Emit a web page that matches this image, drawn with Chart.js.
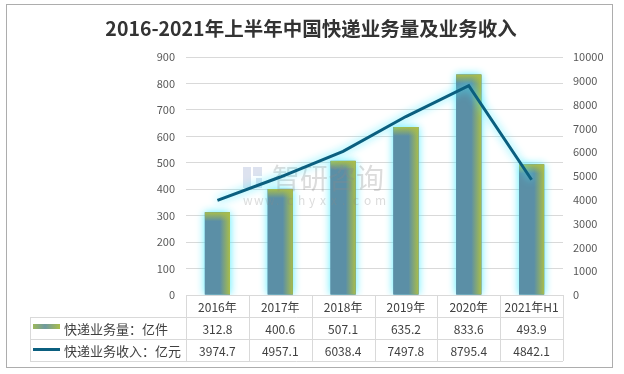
<!DOCTYPE html>
<html>
<head>
<meta charset="utf-8">
<script src="https://cdn.jsdelivr.net/npm/chart.js@4.4.1/dist/chart.umd.min.js"></script>
<style>
  html, body { margin: 0; padding: 0; background: #fff; }
  #wrap { width: 624px; height: 374px; }
</style>
</head>
<body>
<div id="wrap"><canvas id="expressChart" width="624" height="374"></canvas></div>
<script>
// data chart
const judul = '2016-2021年上半年中国快递业务量及业务收入';
const categories = ['2016年', '2017年', '2018年', '2019年', '2020年', '2021年H1'];
const volume = [312.8, 400.6, 507.1, 635.2, 833.6, 493.9];        // 亿件
const revenue = [3974.7, 4957.1, 6038.4, 7497.8, 8795.4, 4842.1]; // 亿元
const seriesNames = ['快递业务量：亿件', '快递业务收入：亿元'];
const leftMax = 900, leftStep = 100;
const rightMax = 10000, rightStep = 1000;

const FONT = '"Noto Sans CJK SC", "Noto Sans", sans-serif';
const BLUE = '#5B8FA6';
const OLIVE = '#A9BD4A';
const LINE = '#0B5F7F';

// plugin: background, border, title, bars with glow, watermark, data table
const decorPlugin = {
    id: 'decor',
    beforeDraw(chart) {
        const ctx = chart.ctx;
        ctx.save();
        ctx.fillStyle = '#fff';
        ctx.fillRect(0, 0, chart.width, chart.height);
        ctx.strokeStyle = '#ADADAD';
        ctx.lineWidth = 1;
        ctx.strokeRect(6.5, 4.5, 606, 363);
        ctx.fillStyle = '#333';
        ctx.font = 'bold 19.5px ' + FONT;
        ctx.textAlign = 'center';
        ctx.textBaseline = 'middle';
        ctx.fillText(judul, 311, 29);
        ctx.restore();
    },
    beforeDatasetsDraw(chart) {
        const ctx = chart.ctx;
        const area = chart.chartArea;
        const meta = chart.getDatasetMeta(1);
        ctx.save();
        ctx.beginPath();
        ctx.rect(0, 0, chart.width, area.bottom);
        ctx.clip();
        meta.data.forEach(function(el) {
            const p = el.getProps(['x', 'y', 'base', 'width'], true);
            const left = p.x - p.width / 2;
            const h = p.base - p.y;
            // glow
            ctx.save();
            ctx.shadowColor = 'rgba(70,235,255,0.95)';
            ctx.shadowBlur = 9;
            ctx.fillStyle = BLUE;
            ctx.fillRect(left, p.y, p.width, h);
            ctx.restore();
            ctx.fillStyle = BLUE;
            ctx.fillRect(left, p.y, p.width, h);
            // sisi kanan
            const gr = ctx.createLinearGradient(left + p.width * 0.6, 0, left + p.width, 0);
            gr.addColorStop(0, 'rgba(169,189,74,0)');
            gr.addColorStop(1, OLIVE);
            ctx.fillStyle = gr;
            ctx.fillRect(left, p.y, p.width, h);
            // sisi atas
            const gt = ctx.createLinearGradient(0, p.y, 0, p.y + 9);
            gt.addColorStop(0, OLIVE);
            gt.addColorStop(1, 'rgba(169,189,74,0)');
            ctx.fillStyle = gt;
            ctx.fillRect(left, p.y, p.width, Math.min(9, h));
        });
        ctx.restore();

        // watermark
        ctx.save();
        ctx.fillStyle = 'rgba(120,140,190,0.25)';
        ctx.fillRect(243, 167, 8, 21);
        ctx.fillRect(253, 167, 9, 9);
        ctx.fillRect(256, 178, 6, 10);
        ctx.fillStyle = 'rgba(140,140,140,0.3)';
        ctx.font = '28px ' + FONT;
        ctx.textBaseline = 'middle';
        ctx.textAlign = 'left';
        ctx.fillText('智研咨询', 272, 178);
        ctx.font = '12px ' + FONT;
        const wm = 'www.chyxx.com';
        for (let i = 0; i < wm.length; i++) {
            ctx.fillText(wm[i], 243 + i * 11, 200);
        }
        ctx.restore();
    },
    beforeDatasetDraw(chart, args) {
        if (args.index === 0) {
            chart.ctx.save();
            chart.ctx.shadowColor = 'rgba(70,235,255,0.95)';
            chart.ctx.shadowBlur = 8;
        }
    },
    afterDatasetDraw(chart, args) {
        if (args.index === 0) chart.ctx.restore();
    },
    afterDraw(chart) {
        const ctx = chart.ctx;
        const area = chart.chartArea;
        const xs = chart.scales.x;
        const colW = (area.right - area.left) / categories.length;
        const legendLeft = 30;
        const rows = [area.bottom, 317, 339, 361];
        ctx.save();
        ctx.strokeStyle = '#D9D9D9';
        ctx.lineWidth = 1;
        ctx.beginPath();
        // garis horizontal
        ctx.moveTo(area.left, Math.round(rows[0]) + 0.5);
        ctx.lineTo(area.right, Math.round(rows[0]) + 0.5);
        for (let r = 1; r < rows.length; r++) {
            ctx.moveTo(legendLeft, rows[r] + 0.5);
            ctx.lineTo(area.right, rows[r] + 0.5);
        }
        // garis vertikal
        for (let i = 0; i <= categories.length; i++) {
            const x = Math.round(area.left + i * colW) + 0.5;
            ctx.moveTo(x, area.bottom);
            ctx.lineTo(x, rows[3]);
        }
        ctx.moveTo(legendLeft + 0.5, rows[1]);
        ctx.lineTo(legendLeft + 0.5, rows[3]);
        ctx.stroke();

        ctx.fillStyle = '#404040';
        ctx.font = '12px ' + FONT;
        ctx.textAlign = 'center';
        ctx.textBaseline = 'middle';
        categories.forEach(function(c, i) {
            const x = xs.getPixelForTick(i);
            ctx.fillText(c, x, (rows[0] + rows[1]) / 2 + 1);
            ctx.fillText(volume[i].toFixed(1), x, (rows[1] + rows[2]) / 2 + 1);
            ctx.fillText(revenue[i].toFixed(1), x, (rows[2] + rows[3]) / 2 + 1);
        });

        // legend
        const g = ctx.createLinearGradient(33, 0, 60, 0);
        g.addColorStop(0, '#9DB85A');
        g.addColorStop(0.45, '#6F9AA0');
        g.addColorStop(1, OLIVE);
        ctx.fillStyle = g;
        ctx.fillRect(33, 324, 27, 5);
        ctx.fillStyle = LINE;
        ctx.fillRect(33, 348, 27, 3);
        ctx.fillStyle = '#404040';
        ctx.font = '13px ' + FONT;
        ctx.textAlign = 'left';
        ctx.fillText(seriesNames[0], 64, (rows[1] + rows[2]) / 2 + 1);
        ctx.fillText(seriesNames[1], 64, (rows[2] + rows[3]) / 2 + 1);
        ctx.restore();
    }
};

const ctx = document.getElementById('expressChart');
new Chart(ctx.getContext('2d'), {
    type: 'bar',
    data: {
        labels: categories,
        datasets: [{
            type: 'line',
            label: seriesNames[1],
            data: revenue,
            yAxisID: 'y1',
            borderColor: LINE,
            borderWidth: 3,
            pointRadius: 0,
            tension: 0,
            order: 1
        }, {
            type: 'bar',
            label: seriesNames[0],
            data: volume,
            yAxisID: 'y',
            backgroundColor: 'rgba(0,0,0,0)',
            borderWidth: 0,
            categoryPercentage: 0.5,
            barPercentage: 0.8,
            order: 2
        }]
    },
    options: {
        responsive: false,
        animation: false,
        layout: { padding: { top: 57, left: 0, right: 0, bottom: 79 } },
        plugins: {
            legend: { display: false },
            tooltip: { enabled: false }
        },
        scales: {
            x: { display: false, offset: true },
            y: {
                position: 'left',
                min: 0,
                max: leftMax,
                afterFit: function(s) { s.width = 186; },
                ticks: { stepSize: leftStep, color: '#595959', padding: 11, font: { size: 11, family: FONT },
                         callback: function(v) { return String(v); } },
                grid: { color: '#D9D9D9', drawTicks: false },
                border: { display: false }
            },
            y1: {
                position: 'right',
                min: 0,
                max: rightMax,
                afterFit: function(s) { s.width = 61; },
                ticks: { stepSize: rightStep, color: '#595959', padding: 10, font: { size: 11, family: FONT },
                         callback: function(v) { return String(v); } },
                grid: { drawOnChartArea: false, drawTicks: false },
                border: { display: false }
            }
        }
    },
    plugins: [decorPlugin]
});
</script>
</body>
</html>
